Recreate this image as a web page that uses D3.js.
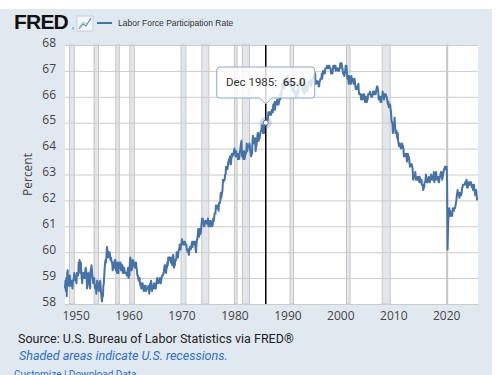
<!DOCTYPE html>
<html>
<head>
<meta charset="utf-8">
<script src="https://cdn.jsdelivr.net/npm/d3@7"></script>
<style>
  body { margin: 0; background: #fff; }
  svg { display: block; }
</style>
</head>
<body>
<svg id="chart" width="501" height="375"></svg>
<script>
// Civilian labor force participation rate, monthly, one row per year starting 1948
const startYear = 1948;
const rates = [
  [58.6, 58.9, 58.5, 59.0, 58.3, 59.2, 59.3, 58.9, 58.9, 58.7, 58.7, 59.1],
  [58.7, 58.9, 58.7, 58.7, 58.9, 58.6, 58.9, 58.9, 59.0, 59.2, 59.1, 59.0],
  [58.9, 58.9, 58.8, 59.2, 59.1, 59.1, 59.1, 59.6, 59.3, 59.7, 59.5, 59.2],
  [59.6, 59.2, 59.0, 58.8, 59.1, 59.2, 59.1, 59.2, 59.0, 59.0, 59.3, 59.4],
  [59.3, 59.0, 58.6, 58.7, 58.8, 59.2, 59.0, 58.8, 58.8, 58.6, 59.3, 59.3],
  [59.5, 59.3, 59.1, 59.0, 58.8, 58.9, 59.0, 58.8, 58.6, 58.6, 58.7, 58.4],
  [58.7, 58.9, 58.8, 58.8, 58.6, 58.5, 58.6, 58.8, 58.9, 58.6, 58.4, 58.2],
  [58.1, 58.4, 58.3, 58.7, 58.8, 59.1, 59.4, 59.6, 59.7, 59.6, 59.9, 60.2],
  [60.1, 60.0, 59.8, 59.9, 60.0, 60.0, 59.9, 59.7, 59.8, 59.7, 59.6, 59.6],
  [59.3, 59.6, 59.4, 59.5, 59.4, 59.7, 59.7, 59.3, 59.3, 59.5, 59.2, 59.6],
  [59.2, 59.2, 59.6, 59.4, 59.4, 59.5, 59.6, 59.3, 59.5, 59.5, 59.5, 59.2],
  [59.2, 59.4, 59.4, 59.3, 59.2, 59.2, 59.2, 59.2, 59.1, 59.2, 59.3, 59.4],
  [59.0, 59.4, 59.1, 59.6, 59.8, 59.7, 59.5, 59.3, 59.5, 59.4, 59.7, 59.5],
  [59.5, 59.5, 59.6, 59.4, 59.4, 59.6, 59.4, 59.3, 59.1, 59.1, 59.0, 58.9],
  [59.0, 59.0, 58.8, 58.7, 58.8, 58.6, 58.6, 58.8, 58.8, 58.6, 58.6, 58.5],
  [58.7, 58.6, 58.6, 58.7, 58.5, 58.6, 58.6, 58.6, 58.6, 58.7, 58.6, 58.4],
  [58.6, 58.8, 58.6, 58.9, 58.8, 58.5, 58.7, 58.7, 58.7, 58.6, 58.8, 58.7],
  [58.6, 58.7, 58.6, 58.8, 58.9, 59.0, 58.9, 58.8, 58.8, 58.9, 58.9, 59.0],
  [58.9, 58.8, 58.9, 59.0, 59.1, 59.1, 59.1, 59.2, 59.2, 59.4, 59.5, 59.5],
  [59.4, 59.2, 59.4, 59.4, 59.6, 59.5, 59.8, 59.7, 59.7, 59.8, 59.7, 59.7],
  [59.6, 59.8, 59.7, 59.5, 59.6, 59.9, 59.8, 59.4, 59.5, 59.5, 59.7, 59.7],
  [59.7, 60.0, 59.8, 60.0, 59.8, 60.0, 60.1, 60.1, 60.3, 60.2, 60.1, 60.3],
  [60.3, 60.5, 60.4, 60.3, 60.3, 60.3, 60.4, 60.3, 60.4, 60.3, 60.3, 60.3],
  [60.1, 60.1, 60.0, 60.1, 60.1, 59.9, 60.1, 60.2, 60.2, 60.1, 60.2, 60.3],
  [60.4, 60.2, 60.4, 60.4, 60.3, 60.4, 60.4, 60.4, 60.1, 60.0, 60.3, 60.5],
  [60.5, 60.7, 60.9, 60.8, 60.6, 60.9, 60.9, 60.7, 60.8, 61.0, 61.2, 61.3],
  [61.3, 61.2, 61.1, 61.0, 61.0, 61.1, 61.2, 61.2, 61.2, 61.2, 61.1, 61.1],
  [61.3, 61.0, 61.1, 61.1, 61.2, 61.0, 61.2, 61.2, 61.1, 61.1, 61.0, 61.1],
  [61.3, 61.2, 61.3, 61.5, 61.5, 61.5, 61.8, 61.8, 61.7, 61.7, 61.8, 61.8],
  [61.6, 61.9, 61.9, 61.9, 62.0, 62.3, 62.1, 62.2, 62.3, 62.4, 62.8, 62.7],
  [62.8, 62.8, 62.8, 63.0, 63.0, 63.3, 63.2, 63.2, 63.2, 63.3, 63.5, 63.5],
  [63.6, 63.6, 63.7, 63.4, 63.4, 63.6, 63.8, 63.8, 63.7, 63.8, 63.8, 63.9],
  [64.0, 63.9, 63.8, 63.7, 63.9, 63.7, 63.8, 63.7, 63.6, 63.7, 63.8, 63.6],
  [63.9, 63.9, 64.1, 64.2, 64.3, 63.7, 63.8, 63.8, 63.6, 63.9, 63.9, 63.6],
  [63.7, 63.8, 63.8, 63.9, 64.2, 63.9, 64.0, 64.1, 64.1, 64.1, 64.2, 64.1],
  [63.9, 63.8, 63.7, 63.8, 63.8, 64.3, 64.5, 64.3, 64.4, 64.2, 64.3, 64.4],
  [63.9, 64.1, 64.1, 64.3, 64.5, 64.6, 64.6, 64.3, 64.4, 64.4, 64.5, 64.6],
  [64.7, 64.7, 64.9, 64.9, 64.8, 64.6, 64.7, 64.6, 64.9, 65.0, 64.9, 65.0],
  [64.9, 65.0, 65.1, 65.1, 65.2, 65.4, 65.4, 65.3, 65.4, 65.4, 65.4, 65.3],
  [65.4, 65.5, 65.5, 65.4, 65.7, 65.5, 65.6, 65.8, 65.5, 65.7, 65.8, 65.7],
  [65.8, 65.9, 65.7, 65.8, 65.7, 65.8, 65.9, 66.1, 65.9, 66.0, 66.2, 66.1],
  [66.5, 66.3, 66.3, 66.4, 66.3, 66.5, 66.5, 66.5, 66.4, 66.5, 66.6, 66.5],
  [66.8, 66.7, 66.7, 66.6, 66.6, 66.4, 66.5, 66.5, 66.4, 66.4, 66.4, 66.4],
  [66.2, 66.2, 66.3, 66.4, 66.2, 66.2, 66.1, 66.0, 66.2, 66.1, 66.1, 66.0],
  [66.3, 66.2, 66.4, 66.5, 66.6, 66.7, 66.7, 66.6, 66.4, 66.3, 66.4, 66.4],
  [66.2, 66.2, 66.2, 66.1, 66.4, 66.5, 66.4, 66.4, 66.2, 66.3, 66.3, 66.4],
  [66.6, 66.6, 66.5, 66.5, 66.6, 66.4, 66.4, 66.6, 66.6, 66.7, 66.7, 66.7],
  [66.8, 66.8, 66.7, 66.9, 66.5, 66.5, 66.6, 66.6, 66.6, 66.6, 66.5, 66.4],
  [66.4, 66.6, 66.6, 66.7, 66.7, 66.7, 66.9, 66.7, 66.9, 67.0, 66.9, 67.0],
  [67.0, 66.9, 67.1, 67.1, 67.1, 67.1, 67.2, 67.1, 67.1, 67.1, 67.2, 67.2],
  [67.1, 67.1, 67.1, 66.9, 67.0, 67.0, 66.9, 67.0, 67.2, 67.1, 67.1, 67.2],
  [67.2, 67.2, 67.0, 67.1, 67.1, 67.1, 67.1, 67.0, 67.0, 67.0, 67.1, 67.1],
  [67.3, 67.3, 67.3, 67.3, 67.1, 67.1, 66.9, 66.9, 66.9, 66.8, 66.9, 67.0],
  [67.2, 67.1, 67.2, 66.9, 66.7, 66.7, 66.8, 66.5, 66.8, 66.7, 66.7, 66.7],
  [66.5, 66.8, 66.6, 66.7, 66.7, 66.6, 66.5, 66.6, 66.7, 66.6, 66.4, 66.3],
  [66.4, 66.4, 66.3, 66.4, 66.4, 66.5, 66.2, 66.1, 66.1, 66.1, 66.1, 65.9],
  [66.1, 66.0, 66.0, 65.9, 66.0, 66.1, 66.1, 66.0, 65.8, 65.9, 66.0, 65.9],
  [65.8, 65.9, 65.9, 66.1, 66.1, 66.1, 66.1, 66.2, 66.1, 66.1, 66.0, 66.0],
  [66.0, 66.1, 66.2, 66.1, 66.1, 66.2, 66.1, 66.2, 66.1, 66.2, 66.3, 66.4],
  [66.4, 66.3, 66.2, 65.9, 66.0, 66.0, 66.0, 65.8, 66.0, 65.8, 66.0, 66.0],
  [66.2, 66.0, 66.1, 65.9, 66.1, 66.1, 66.1, 66.1, 66.0, 66.0, 65.9, 65.8],
  [65.7, 65.8, 65.6, 65.7, 65.7, 65.7, 65.5, 65.4, 65.1, 65.0, 65.0, 64.6],
  [64.8, 64.9, 64.9, 65.2, 64.9, 64.6, 64.6, 64.7, 64.6, 64.4, 64.6, 64.3],
  [64.2, 64.1, 64.2, 64.2, 64.1, 64.0, 64.0, 64.1, 64.2, 64.1, 64.1, 64.0],
  [63.7, 63.8, 63.8, 63.7, 63.7, 63.8, 63.7, 63.5, 63.6, 63.8, 63.6, 63.7],
  [63.6, 63.4, 63.3, 63.4, 63.4, 63.4, 63.4, 63.3, 63.2, 62.8, 63.0, 62.9],
  [62.9, 62.9, 63.1, 62.8, 62.8, 62.8, 62.9, 62.9, 62.8, 62.9, 62.9, 62.7],
  [62.9, 62.8, 62.7, 62.7, 62.8, 62.6, 62.6, 62.6, 62.4, 62.5, 62.5, 62.7],
  [62.7, 62.8, 63.0, 62.8, 62.7, 62.7, 62.8, 62.8, 62.9, 62.8, 62.7, 62.7],
  [62.9, 62.9, 63.0, 62.9, 62.8, 62.8, 62.9, 62.9, 63.1, 62.7, 62.9, 62.8],
  [62.8, 63.1, 62.9, 62.9, 62.8, 62.9, 62.9, 62.7, 62.7, 62.9, 62.9, 63.0],
  [63.1, 63.1, 63.0, 62.8, 62.9, 63.0, 63.1, 63.2, 63.2, 63.3, 63.2, 63.3],
  [63.3, 63.3, 62.7, 60.1, 60.8, 61.4, 61.5, 61.7, 61.4, 61.6, 61.5, 61.5],
  [61.4, 61.4, 61.5, 61.7, 61.6, 61.6, 61.7, 61.7, 61.7, 61.8, 61.9, 62.0],
  [62.2, 62.3, 62.4, 62.2, 62.3, 62.2, 62.1, 62.3, 62.3, 62.2, 62.2, 62.3],
  [62.5, 62.5, 62.6, 62.6, 62.6, 62.6, 62.6, 62.7, 62.7, 62.7, 62.8, 62.5],
  [62.5, 62.5, 62.7, 62.7, 62.6, 62.6, 62.7, 62.7, 62.7, 62.6, 62.5, 62.5],
  [62.6, 62.4, 62.5, 62.6, 62.4, 62.3, 62.2, 62.3, 62.4, 62.2, 62.0]
];

// NBER recessions [start, end]
const recessions = [
  ['1948-11', '1949-10'], ['1953-07', '1954-05'], ['1957-08', '1958-04'],
  ['1960-04', '1961-02'], ['1969-12', '1970-11'], ['1973-11', '1975-03'],
  ['1980-01', '1980-07'], ['1981-07', '1982-11'], ['1990-07', '1991-03'],
  ['2001-03', '2001-11'], ['2007-12', '2009-06'], ['2020-02', '2020-04']
];

const yTicks = [58, 59, 60, 61, 62, 63, 64, 65, 66, 67, 68];
const xTickYears = [1950, 1960, 1970, 1980, 1990, 2000, 2010, 2020];
const hoverDate = '1985-12';
const seriesName = 'Labor Force Participation Rate';

const parseMonth = d3.timeParse('%Y-%m');
const data = rates.flatMap((row, i) => row.map((v, m) => ({ date: new Date(startYear + i, m, 1), value: v })));

const svg = d3.select('#chart');
const blue = '#4572a7';

// background panel
svg.append('rect').attr('x', 0).attr('y', 9).attr('width', 492).attr('height', 366).attr('fill', '#e1e9f0');

const plot = { left: 65, right: 478, top: 45, bottom: 304 };
svg.append('rect')
    .attr('x', plot.left).attr('y', plot.top)
    .attr('width', plot.right - plot.left).attr('height', plot.bottom - plot.top)
    .attr('fill', '#fff');

const x = d3.scaleTime().domain([new Date(1948, 0, 1), new Date(2026, 0, 1)]).range([plot.left, plot.right]);
const y = d3.scaleLinear().domain([58, 68]).range([plot.bottom, plot.top]);

// recession bands
svg.append('g').selectAll('rect')
    .data(recessions)
    .enter().append('rect')
    .attr('x', d => x(parseMonth(d[0])))
    .attr('y', plot.top)
    .attr('width', d => Math.max(1, x(parseMonth(d[1])) - x(parseMonth(d[0]))))
    .attr('height', plot.bottom - plot.top)
    .attr('fill', '#e3e6ea')
    .attr('stroke', '#c6c6c6')
    .attr('stroke-width', 1);

// y axis + grid
const yAxis = svg.append('g')
    .attr('transform', `translate(${plot.left},0)`)
    .call(d3.axisLeft(y).tickValues(yTicks).tickSize(-(plot.right - plot.left)).tickFormat(d3.format('d')));
yAxis.select('.domain').remove();
yAxis.selectAll('line').attr('stroke', '#cccccc').attr('stroke-width', 1);
yAxis.selectAll('text')
    .attr('x', -9).attr('dy', '0.1em')
    .attr('fill', '#444').style('font', '12px "Open Sans", sans-serif');

svg.append('text')
    .attr('transform', `translate(32,${(plot.top + plot.bottom) / 2}) rotate(-90)`)
    .attr('text-anchor', 'middle')
    .attr('fill', '#444')
    .style('font', '12px "Open Sans", sans-serif')
    .text('Percent');

// x axis
const xAxis = svg.append('g')
    .attr('transform', `translate(0,${plot.bottom})`)
    .call(d3.axisBottom(x).tickValues(xTickYears.map(yr => new Date(yr, 0, 1))).tickSize(0).tickFormat(d3.timeFormat('%Y')));
xAxis.select('.domain').attr('stroke', '#cccccc');
xAxis.selectAll('text')
    .attr('dy', '1.05em')
    .attr('fill', '#444').style('font', '12px "Open Sans", sans-serif');

// series line
const line = d3.line().x(d => x(d.date)).y(d => y(d.value));
svg.append('path')
    .datum(data)
    .attr('d', line)
    .attr('fill', 'none')
    .attr('stroke', blue)
    .attr('stroke-width', 2)
    .attr('stroke-linejoin', 'round');

// crosshair + hover point
const hd = parseMonth(hoverDate);
const hv = data.find(d => +d.date === +hd);
svg.append('line')
    .attr('x1', x(hd)).attr('x2', x(hd))
    .attr('y1', plot.top).attr('y2', plot.bottom)
    .attr('stroke', '#000').attr('stroke-width', 1.5);

svg.append('circle')
    .attr('cx', x(hd)).attr('cy', y(hv.value)).attr('r', 6)
    .attr('fill', blue).attr('fill-opacity', 0.25);
svg.append('circle')
    .attr('cx', x(hd)).attr('cy', y(hv.value)).attr('r', 2.5)
    .attr('fill', '#fff').attr('stroke', blue).attr('stroke-width', 1);

// tooltip
const tx = x(hd), tyBottom = 95;
const tip = svg.append('g');
tip.append('path')
    .attr('d', `M${tx - 46},67 h92 a3,3 0 0 1 3,3 v${tyBottom - 70} a3,3 0 0 1 -3,3 h-40 l-6,6 l-6,-6 h-40 a3,3 0 0 1 -3,-3 v${-(tyBottom - 70)} a3,3 0 0 1 3,-3 z`)
    .attr('fill', '#fff').attr('fill-opacity', 0.82)
    .attr('stroke', '#86a8d6').attr('stroke-width', 1);
const tt = tip.append('text')
    .attr('x', tx).attr('y', 85.5)
    .attr('text-anchor', 'middle')
    .attr('fill', '#333')
    .style('font', '11.5px Roboto, sans-serif');
tt.append('tspan').text(d3.timeFormat('%b %Y')(hd) + ':\u00a0\u00a0');
tt.append('tspan').attr('font-weight', 500).text(hv.value.toFixed(1));

// header: logo + legend
svg.append('text')
    .attr('x', 14).attr('y', 29)
    .attr('fill', '#111')
    .style('font', 'bold 21px "Liberation Sans", Arial, sans-serif')
    .style('letter-spacing', '-0.8px')
    .text('FRED');
svg.append('text')
    .attr('x', 72).attr('y', 30)
    .attr('fill', '#111')
    .style('font', '3px sans-serif')
    .text('®');
svg.append('rect')
    .attr('x', 77).attr('y', 16).attr('width', 16).attr('height', 15)
    .attr('fill', '#f4f7fa').attr('stroke', '#b9c9da').attr('stroke-width', 0.8);
svg.append('path')
    .attr('d', 'M79,29 L83,24 L86,26 L91,18')
    .attr('fill', 'none').attr('stroke', '#5a8fd0').attr('stroke-width', 1.2);
svg.append('path')
    .attr('d', 'M79,27 L83,22 L86,24 L91,20')
    .attr('fill', 'none').attr('stroke', '#8fc18a').attr('stroke-width', 0.8);
svg.append('line')
    .attr('x1', 97).attr('x2', 112).attr('y1', 23).attr('y2', 23)
    .attr('stroke', blue).attr('stroke-width', 2);
svg.append('text')
    .attr('x', 118).attr('y', 26)
    .attr('fill', '#333')
    .style('font', '8.5px "Liberation Sans", Arial, sans-serif')
    .text(seriesName);

// footer
svg.append('text')
    .attr('x', 18).attr('y', 343)
    .attr('fill', '#222')
    .style('font', '12.5px Roboto, sans-serif')
    .text('Source: U.S. Bureau of Labor Statistics via FRED®');
svg.append('text')
    .attr('x', 19).attr('y', 360)
    .attr('fill', '#2a6fc9')
    .style('font', 'italic 12.5px Roboto, sans-serif')
    .text('Shaded areas indicate U.S. recessions.');
svg.append('text')
    .attr('x', 14).attr('y', 378)
    .attr('fill', '#2a6fc9')
    .style('font', '10px Roboto, sans-serif')
    .text('Customize  |  Download Data');
</script>
</body>
</html>
